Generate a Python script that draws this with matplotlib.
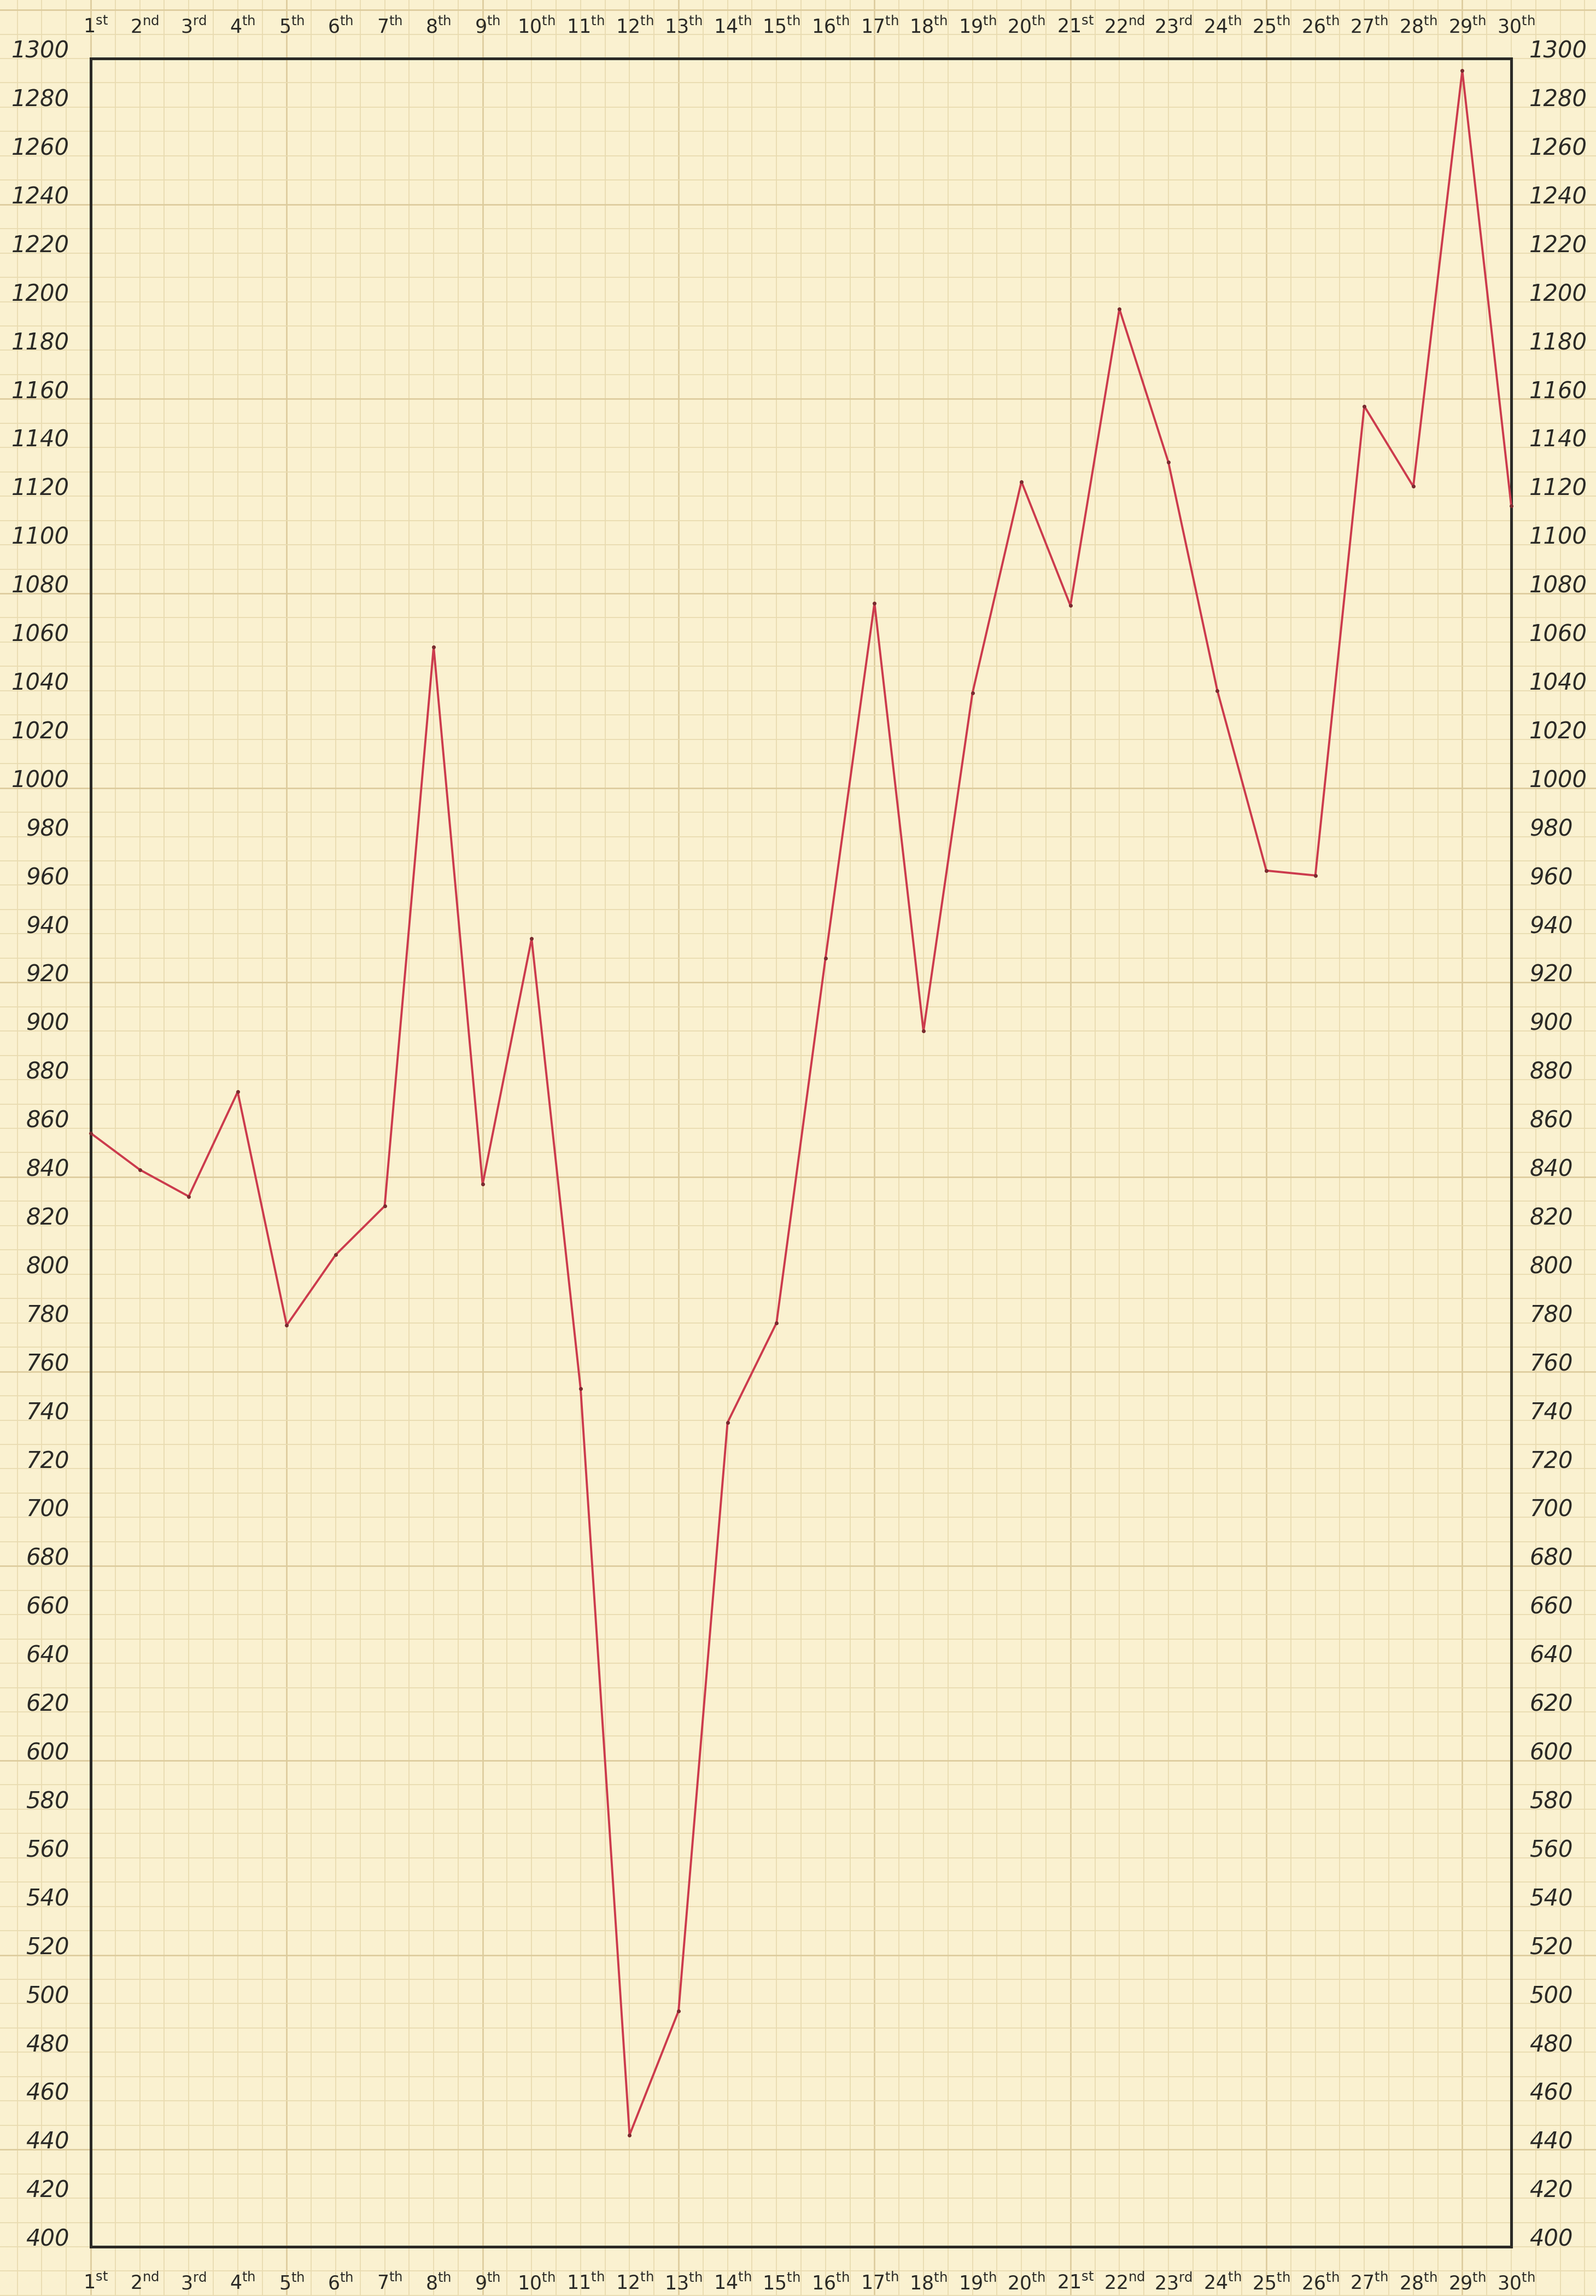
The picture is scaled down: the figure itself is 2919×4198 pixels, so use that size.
import matplotlib
matplotlib.use('Agg')
import matplotlib.pyplot as plt
import numpy as np

# Data
days = list(range(1, 31))
day_labels = ["1st", "2nd", "3rd", "4th", "5th", "6th", "7th", "8th", "9th", "10th",
              "11th", "12th", "13th", "14th", "15th", "16th", "17th", "18th", "19th", "20th",
              "21st", "22nd", "23rd", "24th", "25th", "26th", "27th", "28th", "29th", "30th"]
values = [858, 843, 832, 875, 779, 808, 828, 1058, 837, 938,
          753, 446, 497, 739, 780, 930, 1076, 900, 1039, 1126,
          1075, 1197, 1134, 1040, 966, 964, 1157, 1124, 1295, 1116]
y_ticks = list(range(400, 1301, 20))

paper = '#faf1d0'
ink = '#2b2a26'

fig = plt.figure(figsize=(29.19, 41.98), dpi=100, facecolor=paper)
ax = fig.add_axes([0, 0, 1, 1])
ax.set_facecolor(paper)

# graph paper: small squares = half a day x 10 units, heavier line every 8 squares
ax.set_xticks(np.arange(-3, 34, 4))
ax.set_xticks(np.arange(-0.5, 32, 0.5), minor=True)
ax.set_yticks(np.arange(360, 1330, 80))
ax.set_yticks(np.arange(380, 1330, 10), minor=True)
ax.grid(which='minor', color='#e9dbb0', linewidth=1.3)
ax.grid(which='major', color='#dccb9c', linewidth=1.9)
ax.tick_params(which='both', length=0, labelbottom=False, labelleft=False)
ax.set_axisbelow(True)
for s in ax.spines.values():
    s.set_visible(False)

# the axes covers the whole sheet so the graph paper runs to the edges
# (limits set after the ticks, otherwise set_xticks widens them)
ax.set_xlim(1 - 166 / 89.59, 30 + 155 / 89.59)
ax.set_ylim(400 - 90 / 4.446, 1300 + 107 / 4.446)

# frame of the chart
x0, x1 = days[0], days[-1]
y0, y1 = y_ticks[0], y_ticks[-1]
ax.plot([x0, x1, x1, x0, x0], [y0, y0, y1, y1, y0], color=ink, linewidth=3.6,
        solid_joinstyle='miter', zorder=2)

# the red line and pen dots
ax.plot(days, values, color='#cc3b4d', linewidth=2.8, zorder=3)
ax.plot(days, values, 'o', markersize=4, color='#7a2b30', zorder=4)

# value labels both sides
for v in y_ticks:
    ax.text(x0 - 0.435, v + 3, str(v), ha='right', va='center', fontsize=30,
            style='italic', color=ink)
    ax.text(x1 + 0.37, v + 3, str(v), ha='left', va='center', fontsize=30,
            style='italic', color=ink)

# day labels top and bottom
for d, lab in zip(days, day_labels):
    num = lab[:-2]
    suf = lab[-2:]
    txt = num + r'$^{\mathrm{' + suf + '}}$'
    ax.text(d + 0.1, 1313, txt, ha='center', va='center', fontsize=25, color=ink)
    ax.text(d + 0.1, 385, txt, ha='center', va='center', fontsize=25, color=ink)

fig.savefig('out.png', dpi=100, facecolor=paper)
